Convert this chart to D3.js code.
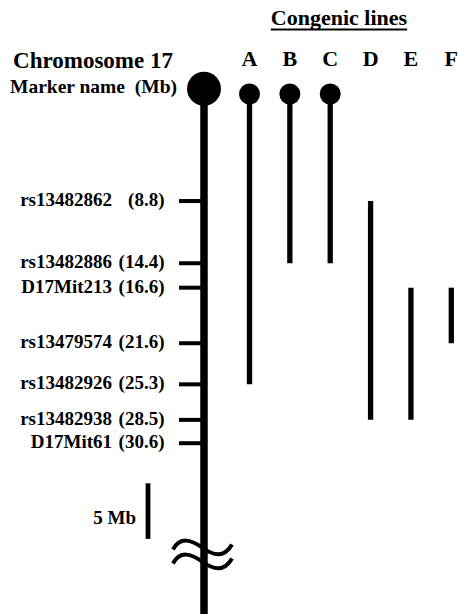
<!DOCTYPE html>
<html><head><meta charset="utf-8">
<script src="https://cdn.jsdelivr.net/npm/d3@7"></script>
<style>
body{margin:0;background:#fff}
svg{display:block}
text{font-family:"Liberation Serif","Times New Roman",Times,serif;font-weight:bold;fill:#000}
</style>
</head><body>
<svg id="c" width="458" height="614"></svg>
<script>
// ---- data ----
const markerNames = ["rs13482862","rs13482886","D17Mit213","rs13479574","rs13482926","rs13482938","D17Mit61"];
const markerMb = [8.8,14.4,16.6,21.6,25.3,28.5,30.6];
const lineNames = ["A","B","C","D","E","F"];
const lineStartMb = [null,null,null,8.8,16.6,16.6]; // null = starts at centromere
const lineEndMb = [25.3,14.4,14.4,28.5,28.5,21.6];
const scaleBarMb = 5;
const chromosomeTitle = "Chromosome 17";
const markerHeader = "Marker name  (Mb)";
const linesTitle = "Congenic lines";
const scaleBarLabel = "5 Mb";

// ---- scales ----
const svg = d3.select("#c");
const y = d3.scaleLinear().domain([0, 30.6]).range([103.3, 443.2]);
const x = d3.scalePoint().domain(lineNames).range([249.5, 451.3]);
const chromX = 204;

// ---- headings ----
const t = svg.append("text").attr("x", 339).attr("y", 25).attr("text-anchor","middle")
  .style("font-size","22px").text(linesTitle);
const tw = t.node().getComputedTextLength();
svg.append("rect").attr("x", 339 - tw/2).attr("y", 28.5).attr("width", tw).attr("height", 2).attr("fill","#000");

svg.append("text").attr("x", 93).attr("y", 68.3).attr("text-anchor","middle")
  .style("font-size","23px").text(chromosomeTitle);
svg.append("text").attr("x", 177).attr("y", 93.3).attr("text-anchor","end")
  .style("font-size","19.5px").style("white-space","pre").text(markerHeader);

svg.selectAll("text.col").data(lineNames).join("text").attr("class","col")
  .attr("x", d => x(d)).attr("y", 65.7).attr("text-anchor","middle")
  .style("font-size","22px").text(d => d);

// ---- chromosome ----
svg.append("line").attr("x1", chromX).attr("x2", chromX).attr("y1", y(0) - 15).attr("y2", 614)
  .attr("stroke","#000").attr("stroke-width", 7.5);
svg.append("circle").attr("cx", chromX).attr("cy", y(0) - 14.6).attr("r", 17).attr("fill","#000");

// marker ticks
svg.selectAll("line.tick").data(markerMb).join("line").attr("class","tick")
  .attr("x1", 179).attr("x2", chromX).attr("y1", d => y(d)).attr("y2", d => y(d))
  .attr("stroke","#000").attr("stroke-width", 4);

// marker labels (name + position)
svg.selectAll("text.mname").data(markerNames).join("text").attr("class","mname")
  .attr("x", 112).attr("y", (d,i) => y(markerMb[i]) + 5).attr("text-anchor","end")
  .style("font-size","19px").text(d => d);
svg.selectAll("text.mpos").data(markerMb).join("text").attr("class","mpos")
  .attr("x", 164.5).attr("y", d => y(d) + 5).attr("text-anchor","end")
  .style("font-size","19px").text(d => "(" + d + ")");

// ---- congenic lines ----
lineNames.forEach((n, i) => {
  const s = lineStartMb[i];
  const y1 = s === null ? y(0) - 9 : y(s);
  svg.append("line").attr("x1", x(n)).attr("x2", x(n)).attr("y1", y1).attr("y2", y(lineEndMb[i]))
    .attr("stroke","#000").attr("stroke-width", 5.3);
  if (s === null) {
    svg.append("circle").attr("cx", x(n)).attr("cy", y(0) - 9.3).attr("r", 10.5).attr("fill","#000");
  }
});

// ---- scale bar ----
const barTop = 483.3;
svg.append("line").attr("x1", 148).attr("x2", 148).attr("y1", barTop)
  .attr("y2", barTop + (y(scaleBarMb) - y(0))).attr("stroke","#000").attr("stroke-width", 4.8);
svg.append("text").attr("x", 136).attr("y", 524).attr("text-anchor","end")
  .style("font-size","19px").text(scaleBarLabel);

// ---- break symbol ----
function wave(y0) {
  const p = d3.path();
  p.moveTo(173, y0 + 3);
  p.bezierCurveTo(180, y0 - 10, 191, y0 - 7, 202, y0 + 1);
  p.bezierCurveTo(213, y0 + 9, 224, y0 + 12, 232, y0 - 2);
  return p.toString();
}
[546.5, 560.5].forEach(v => {
  svg.append("path").attr("d", wave(v)).attr("fill","none").attr("stroke","#000").attr("stroke-width", 4);
});
</script>
</body></html>
